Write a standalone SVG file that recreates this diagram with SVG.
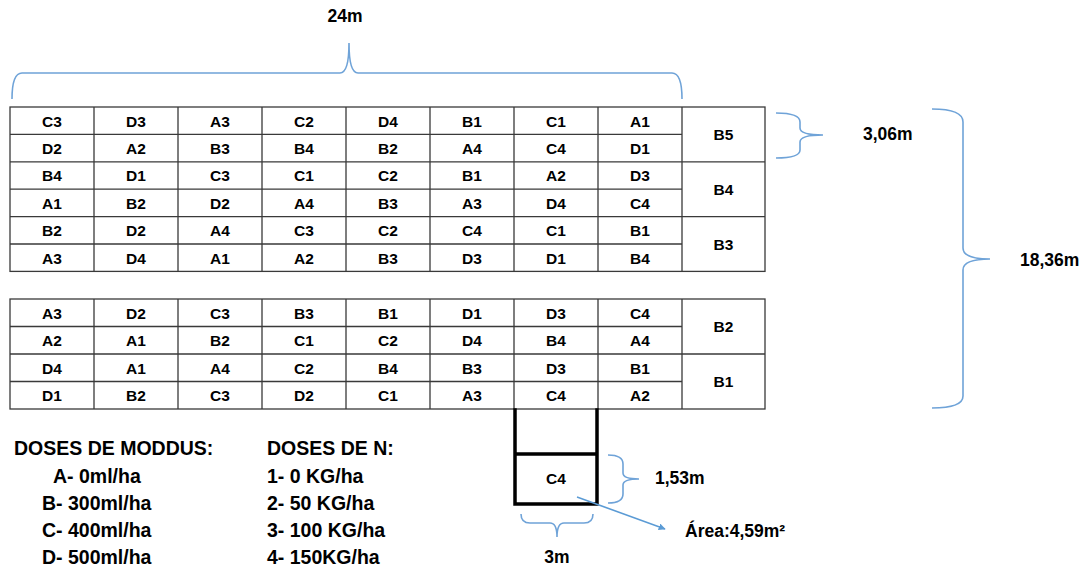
<svg xmlns="http://www.w3.org/2000/svg" width="1091" height="569" viewBox="0 0 1091 569">
<style>
.cell{font-family:"Liberation Sans",Arial,sans-serif;font-weight:bold;font-size:15.5px;fill:#000;text-anchor:middle}
.dim{font-family:"Liberation Sans",Arial,sans-serif;font-weight:bold;font-size:17.5px;fill:#000}
.leg{font-family:"Liberation Sans",Arial,sans-serif;font-weight:bold;font-size:19.5px;fill:#000}
.grid{stroke:#3a3a3a;stroke-width:1.3;fill:none}
.brace{stroke:#6fa3d8;stroke-width:1.6;fill:none}
.thick{stroke:#000;stroke-width:3.5;fill:none;stroke-linecap:square}
</style>
<defs>
<marker id="ah" viewBox="0 0 10 10" refX="9" refY="5" markerWidth="7" markerHeight="7" orient="auto" markerUnits="userSpaceOnUse">
<path d="M0,0 L10,5 L0,10 z" fill="#5b9bd5"/>
</marker>
</defs>
<rect width="1091" height="569" fill="#fff"/>

<g id="top-block">
<rect class="grid" x="10" y="107" width="755" height="164.4"/>
<path class="grid" d="M10 134.4H682M10 161.8H765M10 189.2H682M10 216.6H765M10 244H682"/>
<path class="grid" d="M94 107V271.4M178 107V271.4M262 107V271.4M346 107V271.4M430 107V271.4M514 107V271.4M598 107V271.4M682 107V271.4"/>
<g class="cell">
<text x="52" y="126.5">C3</text><text x="136" y="126.5">D3</text><text x="220" y="126.5">A3</text><text x="304" y="126.5">C2</text><text x="388" y="126.5">D4</text><text x="472" y="126.5">B1</text><text x="556" y="126.5">C1</text><text x="640" y="126.5">A1</text>
<text x="52" y="153.9">D2</text><text x="136" y="153.9">A2</text><text x="220" y="153.9">B3</text><text x="304" y="153.9">B4</text><text x="388" y="153.9">B2</text><text x="472" y="153.9">A4</text><text x="556" y="153.9">C4</text><text x="640" y="153.9">D1</text>
<text x="52" y="181.3">B4</text><text x="136" y="181.3">D1</text><text x="220" y="181.3">C3</text><text x="304" y="181.3">C1</text><text x="388" y="181.3">C2</text><text x="472" y="181.3">B1</text><text x="556" y="181.3">A2</text><text x="640" y="181.3">D3</text>
<text x="52" y="208.7">A1</text><text x="136" y="208.7">B2</text><text x="220" y="208.7">D2</text><text x="304" y="208.7">A4</text><text x="388" y="208.7">B3</text><text x="472" y="208.7">A3</text><text x="556" y="208.7">D4</text><text x="640" y="208.7">C4</text>
<text x="52" y="236.1">B2</text><text x="136" y="236.1">D2</text><text x="220" y="236.1">A4</text><text x="304" y="236.1">C3</text><text x="388" y="236.1">C2</text><text x="472" y="236.1">C4</text><text x="556" y="236.1">C1</text><text x="640" y="236.1">B1</text>
<text x="52" y="263.5">A3</text><text x="136" y="263.5">D4</text><text x="220" y="263.5">A1</text><text x="304" y="263.5">A2</text><text x="388" y="263.5">B3</text><text x="472" y="263.5">D3</text><text x="556" y="263.5">D1</text><text x="640" y="263.5">B4</text>
<text x="723.5" y="140">B5</text><text x="723.5" y="195">B4</text><text x="723.5" y="249.5">B3</text>
</g>
</g>

<g id="bottom-block">
<rect class="grid" x="10" y="299" width="755" height="110"/>
<path class="grid" d="M10 326.5H682M10 354H765M10 381.5H682"/>
<path class="grid" d="M94 299V409M178 299V409M262 299V409M346 299V409M430 299V409M514 299V409M598 299V409M682 299V409"/>
<g class="cell">
<text x="52" y="318.5">A3</text><text x="136" y="318.5">D2</text><text x="220" y="318.5">C3</text><text x="304" y="318.5">B3</text><text x="388" y="318.5">B1</text><text x="472" y="318.5">D1</text><text x="556" y="318.5">D3</text><text x="640" y="318.5">C4</text>
<text x="52" y="346">A2</text><text x="136" y="346">A1</text><text x="220" y="346">B2</text><text x="304" y="346">C1</text><text x="388" y="346">C2</text><text x="472" y="346">D4</text><text x="556" y="346">B4</text><text x="640" y="346">A4</text>
<text x="52" y="373.5">D4</text><text x="136" y="373.5">A1</text><text x="220" y="373.5">A4</text><text x="304" y="373.5">C2</text><text x="388" y="373.5">B4</text><text x="472" y="373.5">B3</text><text x="556" y="373.5">D3</text><text x="640" y="373.5">B1</text>
<text x="52" y="401">D1</text><text x="136" y="401">B2</text><text x="220" y="401">C3</text><text x="304" y="401">D2</text><text x="388" y="401">C1</text><text x="472" y="401">A3</text><text x="556" y="401">C4</text><text x="640" y="401">A2</text>
<text x="723.5" y="332">B2</text><text x="723.5" y="387">B1</text>
</g>
</g>

<g id="plot-detail">
<path class="thick" d="M515 410V504H597V410M515 454H597"/>
<text class="cell" x="556" y="484">C4</text>
</g>

<g id="connectors">
<path class="brace" d="M12 99Q12 73 22 73L340 73Q349 73 349 43Q349 73 358 73L672 73Q682 73 682 99"/>
<path class="brace" d="M776 113Q800 113 800 122L800 128Q800 135 823 135Q800 135 800 142L800 150Q800 158 776 158"/>
<path class="brace" d="M932 109Q963 109 963 122L963 248Q963 259 990 259Q963 259 963 270L963 396Q963 408 932 408"/>
<path class="brace" d="M608 455Q623 455 623 464L623 473Q623 479 639 479Q623 479 623 485L623 494Q623 503 608 503"/>
<path class="brace" d="M521 514Q521 523 530 523L550 523Q557 523 557 537Q557 523 564 523L584 523Q593 523 593 514"/>
<line x1="577" y1="497" x2="665" y2="529" stroke="#5b9bd5" stroke-width="1.6" marker-end="url(#ah)"/>
</g>

<g id="labels">
<text class="dim" x="345" y="22" text-anchor="middle">24m</text>
<text class="dim" x="863" y="140">3,06m</text>
<text class="dim" x="1020" y="266">18,36m</text>
<text class="dim" x="655" y="484">1,53m</text>
<text class="dim" x="557" y="563" text-anchor="middle">3m</text>
<text class="dim" x="685" y="537">Área:4,59m²</text>
</g>

<g id="legend" class="leg">
<text x="14" y="455">DOSES DE MODDUS:</text>
<text x="53" y="483">A- 0ml/ha</text>
<text x="42" y="510">B- 300ml/ha</text>
<text x="42" y="537">C- 400ml/ha</text>
<text x="42" y="564">D- 500ml/ha</text>
<text x="267" y="455">DOSES DE N:</text>
<text x="267" y="483">1- 0 KG/ha</text>
<text x="267" y="510">2- 50 KG/ha</text>
<text x="267" y="537">3- 100 KG/ha</text>
<text x="267" y="564">4- 150KG/ha</text>
</g>
</svg>
